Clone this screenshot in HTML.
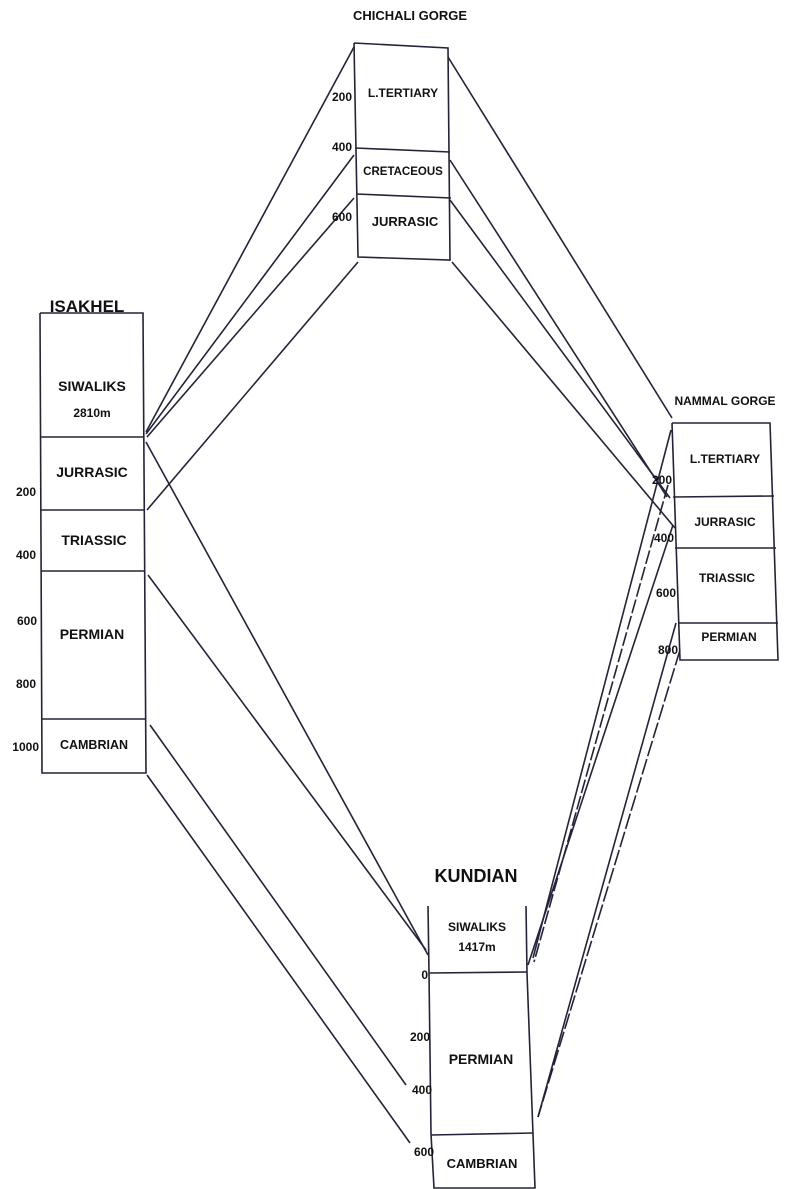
<!DOCTYPE html>
<html><head><meta charset="utf-8"><style>
html,body{margin:0;padding:0;background:#fff;}
svg{display:block}
text{font-family:"Liberation Sans",sans-serif;font-weight:bold;fill:#111;}
</style></head><body>
<svg width="790" height="1189" viewBox="0 0 790 1189" xmlns="http://www.w3.org/2000/svg">
<g stroke="#23233a" stroke-width="1.6" fill="none">
<!-- Chichali -->
<polyline points="354,43 448,48 450,260 358,257 354,43"/>
<line x1="355" y1="148" x2="450" y2="152"/>
<line x1="356" y1="194" x2="451" y2="198"/>
<!-- Isakhel -->
<polyline points="40,313 143,313 146,773 42,773 40,313"/>
<line x1="40" y1="437" x2="144" y2="437"/>
<line x1="41" y1="510" x2="145" y2="510"/>
<line x1="41" y1="571" x2="145" y2="571"/>
<line x1="42" y1="719" x2="146" y2="719"/>
<!-- Nammal -->
<polyline points="672,423 770,423 778,660 680,660 672,423"/>
<line x1="673" y1="497" x2="774" y2="496"/>
<line x1="675" y1="548" x2="776" y2="548"/>
<line x1="678" y1="623" x2="778" y2="623"/>
<!-- Kundian -->
<polyline points="428,906 429,973 431,1134 434,1188 535,1188 533,1134 527,973 526,906"/>
<line x1="429" y1="973" x2="527" y2="972"/>
<line x1="431" y1="1135" x2="533" y2="1133"/>
<!-- Isakhel-Chichali -->
<line x1="354" y1="47" x2="146" y2="432"/>
<line x1="354" y1="155" x2="146" y2="434"/>
<line x1="354" y1="198" x2="147" y2="437"/>
<line x1="358" y1="262" x2="147" y2="510"/>
<!-- Chichali-Nammal -->
<line x1="448" y1="57" x2="672" y2="418"/>
<line x1="450" y1="160" x2="667" y2="497"/>
<line x1="450" y1="200" x2="670" y2="498"/>
<line x1="452" y1="262" x2="675" y2="528"/>
<!-- Isakhel-Kundian -->
<line x1="146" y1="442" x2="428" y2="955"/>
<line x1="148" y1="575" x2="426" y2="950"/>
<line x1="150" y1="725" x2="406" y2="1085"/>
<line x1="147" y1="775" x2="410" y2="1143"/>
<!-- Nammal-Kundian -->
<line x1="671" y1="430" x2="533" y2="958"/>
<line x1="668" y1="485" x2="534" y2="962" stroke-dasharray="14 3"/>
<line x1="673" y1="525" x2="528" y2="965"/>
<line x1="676" y1="623" x2="538" y2="1117"/>
<line x1="680" y1="650" x2="538" y2="1117" stroke-dasharray="16 3"/>
</g>
<g font-size="12" text-anchor="middle">
<text x="410" y="20" font-size="13">CHICHALI GORGE</text>
<text x="403" y="97">L.TERTIARY</text>
<text x="403" y="175" font-size="11.5">CRETACEOUS</text>
<text x="405" y="226" font-size="13">JURRASIC</text>
<text x="87" y="312" font-size="17">ISAKHEL</text>
<text x="92" y="391" font-size="14">SIWALIKS</text>
<text x="92" y="417" font-size="12">2810m</text>
<text x="92" y="477" font-size="14">JURRASIC</text>
<text x="94" y="545" font-size="14">TRIASSIC</text>
<text x="92" y="639" font-size="14">PERMIAN</text>
<text x="94" y="749" font-size="12.5">CAMBRIAN</text>
<text x="725" y="405" font-size="12">NAMMAL GORGE</text>
<text x="725" y="463">L.TERTIARY</text>
<text x="725" y="526">JURRASIC</text>
<text x="727" y="582">TRIASSIC</text>
<text x="729" y="641">PERMIAN</text>
<text x="476" y="882" font-size="18">KUNDIAN</text>
<text x="477" y="931">SIWALIKS</text>
<text x="477" y="951">1417m</text>
<text x="481" y="1064" font-size="14">PERMIAN</text>
<text x="482" y="1168" font-size="13">CAMBRIAN</text>
</g>
<g font-size="12" text-anchor="end">
<text x="352" y="101">200</text>
<text x="352" y="151">400</text>
<text x="352" y="221">600</text>
<text x="36" y="496">200</text>
<text x="36" y="559">400</text>
<text x="37" y="625">600</text>
<text x="36" y="688">800</text>
<text x="39" y="751">1000</text>
<text x="672" y="484">200</text>
<text x="674" y="542">400</text>
<text x="676" y="597">600</text>
<text x="678" y="654">800</text>
<text x="428" y="979">0</text>
<text x="430" y="1041">200</text>
<text x="432" y="1094">400</text>
<text x="434" y="1156">600</text>
</g>
</svg>
</body></html>
